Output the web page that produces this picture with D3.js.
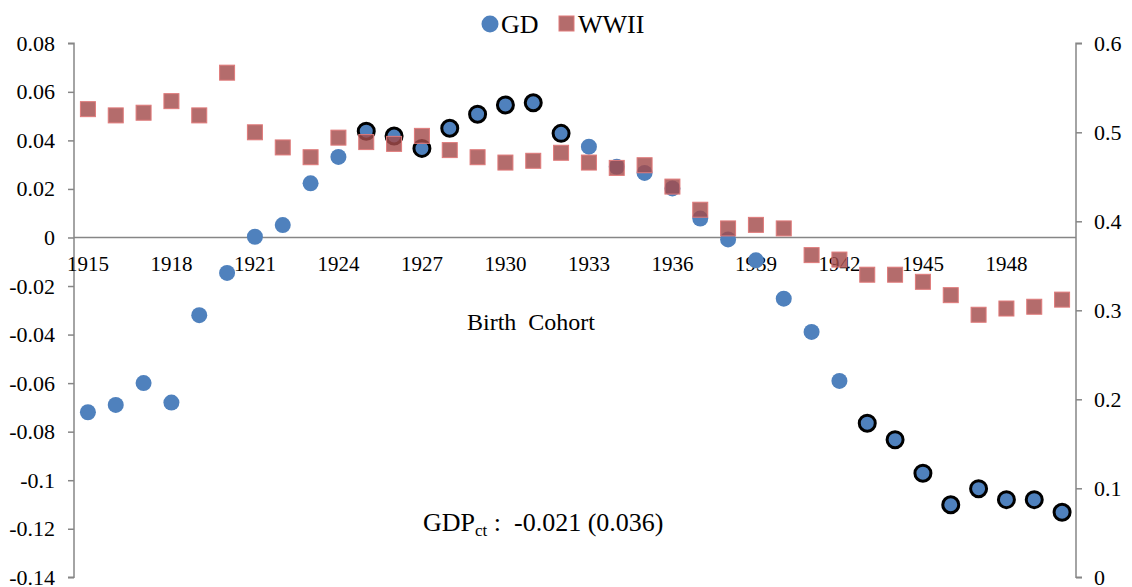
<!DOCTYPE html>
<html>
<head>
<meta charset="utf-8">
<script src="https://cdn.jsdelivr.net/npm/d3@7"></script>
<style>
  body { margin: 0; background: white; }
</style>
</head>
<body>
<div id="chart"></div>
<script>
// data
let years = d3.range(1915, 1951)
let gd = [-0.072, -0.069, -0.060, -0.068, -0.032, -0.0146, 0.0003, 0.0051, 0.0223, 0.0332,
          0.0438, 0.0418, 0.0367, 0.045, 0.0508, 0.0546, 0.0555, 0.0429, 0.0374, 0.0291,
          0.0266, 0.0202, 0.0078, -0.0008, -0.0094, -0.0252, -0.0389, -0.0591, -0.0765, -0.0833,
          -0.0971, -0.1101, -0.1035, -0.108, -0.108, -0.1132]
let wwii = [0.526, 0.519, 0.522, 0.535, 0.519, 0.567, 0.500, 0.483, 0.472, 0.494,
            0.489, 0.487, 0.496, 0.480, 0.472, 0.466, 0.468, 0.477, 0.466, 0.460,
            0.463, 0.439, 0.413, 0.392, 0.396, 0.392, 0.362, 0.357, 0.340, 0.340,
            0.332, 0.317, 0.295, 0.302, 0.304, 0.312]
// cohorts whose GD marker has the black ring
let highlighted = [1925, 1926, 1927, 1928, 1929, 1930, 1931, 1932,
                   1943, 1944, 1945, 1946, 1947, 1948, 1949, 1950]
let leftTicks = [0.08, 0.06, 0.04, 0.02, 0, -0.02, -0.04, -0.06, -0.08, -0.1, -0.12, -0.14]
let rightTicks = [0, 0.1, 0.2, 0.3, 0.4, 0.5, 0.6]
let yearLabels = d3.range(1915, 1951, 3)

let width = 1132,
    height = 587,
    plotL = 74,
    plotR = 1076,
    plotT = 43.3,
    plotB = 577.3,
    serif = '"Liberation Serif", "Times New Roman", serif'

let svg = d3.select('#chart').append('svg')
    .attr('width', width)
    .attr('height', height)

let x = d3.scaleBand().domain(years).range([plotL, plotR])
let yL = d3.scaleLinear().domain([-0.14, 0.08]).range([plotB, plotT])
let yR = d3.scaleLinear().domain([0, 0.6]).range([plotB, plotT])
let cx = function(yr) { return x(yr) + x.bandwidth() / 2 }

// left axis
let axL = svg.append('g')
    .attr('transform', 'translate(' + plotL + ',0)')
    .call(d3.axisLeft(yL).tickValues(leftTicks).tickSize(6).tickPadding(13)
      .tickFormat(function(d) { return d == 0 ? '0' : String(+d.toFixed(2)) }))
// right axis
let axR = svg.append('g')
    .attr('transform', 'translate(' + plotR + ',0)')
    .call(d3.axisRight(yR).tickValues(rightTicks).tickSize(6).tickPadding(12)
      .tickFormat(function(d) { return d == 0 ? '0' : String(+d.toFixed(1)) }))
svg.selectAll('.domain, .tick line').attr('stroke', '#868686').attr('stroke-width', 1.5)
svg.selectAll('.tick text').style('font-size', '22px')
axL.select('.domain').attr('d', 'M-6,' + plotT + 'H0V' + plotB + 'H-6')
axR.select('.domain').attr('d', 'M6,' + plotT + 'H0V' + plotB + 'H6')

// category axis sitting on zero
svg.append('line')
    .attr('x1', plotL).attr('x2', plotR)
    .attr('y1', yL(0)).attr('y2', yL(0))
    .attr('stroke', '#868686').attr('stroke-width', 1.5)
svg.selectAll('.yearlab').data(yearLabels).enter().append('text')
    .attr('class', 'yearlab')
    .attr('x', function(d) { return cx(d) })
    .attr('y', yL(0) + 34)
    .attr('text-anchor', 'middle')
    .style('font-size', '21px')
    .text(function(d) { return d })

// GD circles
svg.selectAll('.gd').data(years).enter().append('circle')
    .attr('class', 'gd')
    .attr('cx', function(d) { return cx(d) })
    .attr('cy', function(d, i) { return yL(gd[i]) })
    .attr('r', 8)
    .attr('fill', '#4f81bd')

// black rings
svg.selectAll('.ring').data(highlighted).enter().append('circle')
    .attr('class', 'ring')
    .attr('cx', function(d) { return cx(d) })
    .attr('cy', function(d) { return yL(gd[years.indexOf(d)]) })
    .attr('r', 8)
    .attr('fill', 'none')
    .attr('stroke', '#000')
    .attr('stroke-width', 3)

// WWII squares
let s = 15
svg.selectAll('.ww').data(years).enter().append('rect')
    .attr('class', 'ww')
    .attr('x', function(d) { return cx(d) - s / 2 })
    .attr('y', function(d, i) { return yR(wwii[i]) - s / 2 })
    .attr('width', s).attr('height', s)
    .attr('fill', '#a44c4c')
    .attr('fill-opacity', 0.82)
    .attr('stroke', '#e07a7a')
    .attr('stroke-width', 1)

// legend
let lg = svg.append('g')
lg.append('circle').attr('cx', 490).attr('cy', 24).attr('r', 8.5).attr('fill', '#4f81bd')
lg.append('text').attr('x', 501).attr('y', 33).style('font-size', '26px').text('GD')
lg.append('rect').attr('x', 559).attr('y', 16).attr('width', 15).attr('height', 15)
    .attr('fill', '#a44c4c').attr('fill-opacity', 0.82).attr('stroke', '#e07a7a')
lg.append('text').attr('x', 578).attr('y', 33).style('font-size', '26px').text('WWII')

// annotations
svg.append('text')
    .attr('x', 531).attr('y', 330)
    .attr('text-anchor', 'middle')
    .style('font-size', '24px')
    .style('white-space', 'pre')
    .text('Birth  Cohort')

let ann = svg.append('text')
    .attr('x', 423).attr('y', 531)
    .style('font-size', '26px')
    .style('white-space', 'pre')
ann.append('tspan').text('GDP')
ann.append('tspan').attr('dy', 5).style('font-size', '17px').text('ct')
ann.append('tspan').attr('dy', -5).text(' :  -0.021 (0.036)')

// every text in Times-like serif
svg.selectAll('text').style('font-family', serif).attr('fill', '#000')
</script>
</body>
</html>
